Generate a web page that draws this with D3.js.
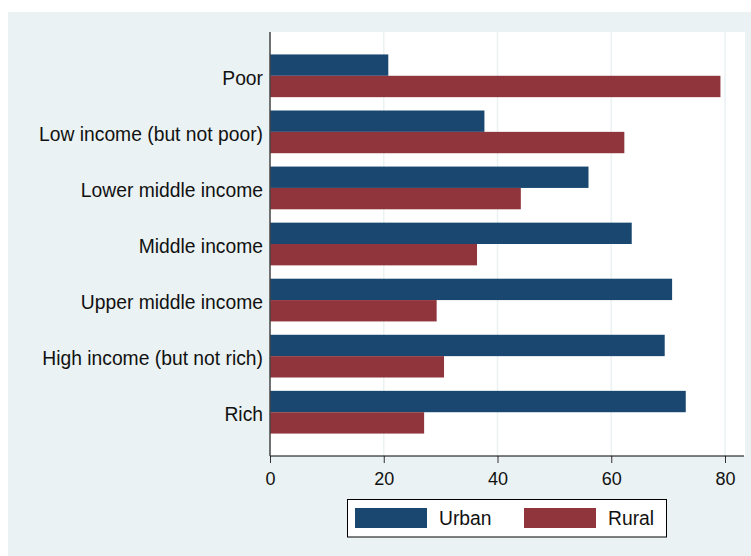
<!DOCTYPE html>
<html>
<head>
<meta charset="utf-8">
<script src="https://cdn.jsdelivr.net/npm/d3@7"></script>
<style>
  html, body { margin: 0; padding: 0; background: #fff; }
  svg { display: block; font-family: "Liberation Sans", Arial, sans-serif; }
</style>
</head>
<body>
<svg id="chart" width="751" height="556"></svg>
<script>
const categories = ["Poor", "Low income (but not poor)", "Lower middle income", "Middle income",
  "Upper middle income", "High income (but not rich)", "Rich"];
const seriesNames = ["Urban", "Rural"];
const urban = [20.8, 37.7, 56.0, 63.6, 70.7, 69.4, 73.1];
const rural = [79.2, 62.3, 44.1, 36.4, 29.3, 30.6, 27.1];
const xTicks = [0, 20, 40, 60, 80];

const colors = { Urban: "#1a476f", Rural: "#90353b" };
const bg = "#eaf2f3";

const width = 751, height = 556;
const plot = { left: 270, right: 745, top: 32, bottom: 456 };

const svg = d3.select("#chart");

// outer panel
svg.append("rect").attr("x", 8).attr("y", 12)
  .attr("width", width - 8).attr("height", height - 12).attr("fill", bg);

// plot region
svg.append("rect").attr("x", plot.left).attr("y", plot.top)
  .attr("width", plot.right - plot.left).attr("height", plot.bottom - plot.top)
  .attr("fill", "#fff");

const x = d3.scaleLinear().domain([0, 80]).range([270, 725]);
const y = d3.scaleBand().domain(categories).range([plot.top, plot.bottom])
  .paddingInner(0.238).paddingOuter(0.4);
const ySub = d3.scaleBand().domain(seriesNames).range([0, y.bandwidth()]);

// gridlines
svg.append("g").selectAll("line")
  .data(xTicks.filter(d => d > 0))
  .join("line")
  .attr("x1", d => x(d)).attr("x2", d => x(d))
  .attr("y1", plot.top).attr("y2", plot.bottom)
  .attr("stroke", bg).attr("stroke-width", 1.5);

// bars
const rows = categories.map((c, i) => ({ cat: c, Urban: urban[i], Rural: rural[i] }));
svg.append("g").selectAll("g")
  .data(rows)
  .join("g")
  .attr("transform", d => `translate(0,${y(d.cat)})`)
  .selectAll("rect")
  .data(d => seriesNames.map(s => ({ s, v: d[s] })))
  .join("rect")
  .attr("x", x(0))
  .attr("y", d => ySub(d.s))
  .attr("width", d => x(d.v) - x(0))
  .attr("height", ySub.bandwidth())
  .attr("fill", d => colors[d.s]);

// x axis
const xAxis = svg.append("g")
  .attr("transform", `translate(0,${plot.bottom})`)
  .call(d3.axisBottom(x).tickValues(xTicks).tickSize(7).tickPadding(9).tickSizeOuter(0));
xAxis.select(".domain").remove();
xAxis.append("line").attr("x1", plot.left).attr("x2", plot.right - 1)
  .attr("stroke", "#000").attr("stroke-width", 1);
xAxis.selectAll(".tick line").attr("stroke", "#333");
xAxis.selectAll(".tick text").attr("font-size", 18).attr("fill", "#111")
  .attr("font-family", "Liberation Sans, Arial, sans-serif");

// y axis
const yAxis = svg.append("g")
  .attr("transform", `translate(${plot.left},0)`)
  .call(d3.axisLeft(y).tickSize(0).tickPadding(7));
yAxis.select(".domain").remove();
yAxis.append("line").attr("x1", 0).attr("x2", 0)
  .attr("y1", plot.top).attr("y2", plot.bottom)
  .attr("stroke", "#444").attr("stroke-width", 1.5);
yAxis.selectAll(".tick text").attr("font-size", 19.3).attr("fill", "#111").attr("dy", "0.46em")
  .attr("font-family", "Liberation Sans, Arial, sans-serif");

// legend
const lg = svg.append("g");
lg.append("rect").attr("x", 347.5).attr("y", 499.5).attr("width", 319).attr("height", 37.5)
  .attr("fill", "#fff").attr("stroke", "#000").attr("stroke-width", 1);
const legX = [355, 524];
seriesNames.forEach((s, i) => {
  lg.append("rect").attr("x", legX[i]).attr("y", 508).attr("width", 72).attr("height", 20)
    .attr("fill", colors[s]);
  lg.append("text").attr("x", legX[i] + 84).attr("y", 518.5).attr("dy", "0.36em")
    .attr("font-size", 19.3).attr("fill", "#111").text(s);
});
</script>
</body>
</html>
